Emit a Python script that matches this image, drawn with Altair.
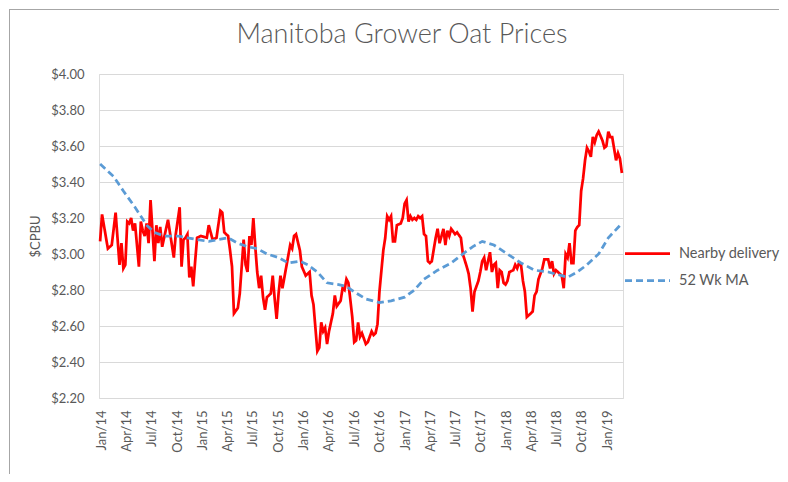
import altair as alt
import pandas as pd

START = "2013-12-27"  # first weekly observation
SERIES = ["Nearby delivery", "52 Wk MA"]

near_weeks = [0, 1, 4, 6, 8, 10, 11, 12, 13, 14, 15, 16, 17, 18, 20, 21, 22, 23, 24, 25, 26, 28, 29, 30, 31, 32, 33, 35,
              38, 39, 41, 42, 43, 44, 45, 46, 47, 48, 49, 50, 52, 55, 56, 58, 60, 62, 63, 64, 66, 67, 68, 69, 71, 72,
              74, 75, 76, 77, 78, 79, 80, 81, 82, 83, 84, 85, 86, 88, 89, 90, 91, 92, 93, 94, 96, 98, 99, 100, 101,
              103, 104, 106, 107, 108, 109, 110, 111, 112, 113, 114, 115, 116, 117, 118, 120, 121, 122, 124, 125, 126,
              127, 128, 130, 131, 132, 133, 134, 135, 137, 138, 140, 141, 142, 143, 144, 146, 147, 148, 149, 150, 151,
              152, 153, 155, 156, 157, 158, 159, 160, 161, 162, 163, 164, 165, 166, 167, 168, 169, 170, 171, 173, 174,
              175, 177, 178, 179, 180, 181, 183, 184, 186, 187, 189, 190, 191, 192, 193, 195, 196, 197, 198, 199, 201,
              202, 203, 204, 205, 206, 207, 208, 209, 210, 211, 213, 214, 215, 216, 217, 218, 219, 220, 222, 223, 224,
              225, 226, 228, 229, 230, 231, 232, 233, 234, 235, 237, 238, 239, 240, 241, 242, 243, 244, 245, 246, 247,
              248, 249, 250, 251, 252, 253, 254, 255, 256, 257, 259, 260, 261, 262, 263, 264, 266, 267, 268, 269]
near_price = [3.07, 3.22, 3.03, 3.05, 3.23, 2.94, 3.06, 2.92, 2.94, 3.18, 3.17, 3.20, 3.13, 3.17, 2.93, 3.18, 3.13, 3.10,
              3.17, 3.06, 3.30, 2.96, 3.16, 3.06, 3.15, 3.04, 3.09, 3.19, 2.98, 3.11, 3.26, 2.93, 3.08, 3.09, 3.11,
              2.87, 2.93, 2.82, 2.96, 3.09, 3.10, 3.09, 3.16, 3.08, 3.09, 3.24, 3.23, 3.12, 3.10, 3.02, 2.93, 2.67,
              2.70, 2.78, 3.08, 2.94, 2.90, 3.10, 3.05, 3.20, 3.04, 2.90, 2.81, 2.88, 2.76, 2.69, 2.76, 2.78, 2.88,
              2.75, 2.64, 2.78, 2.88, 2.81, 2.93, 3.05, 3.03, 3.10, 3.11, 3.02, 2.93, 2.88, 2.89, 2.90, 2.77, 2.72,
              2.59, 2.46, 2.48, 2.62, 2.57, 2.59, 2.50, 2.57, 2.67, 2.77, 2.71, 2.74, 2.81, 2.80, 2.86, 2.84, 2.65,
              2.51, 2.52, 2.62, 2.54, 2.56, 2.50, 2.51, 2.57, 2.55, 2.56, 2.61, 2.79, 3.02, 3.09, 3.21, 3.19, 3.21,
              3.07, 3.07, 3.16, 3.17, 3.20, 3.28, 3.30, 3.18, 3.21, 3.19, 3.20, 3.19, 3.21, 3.20, 3.21, 3.11, 3.10,
              2.96, 2.95, 2.96, 3.09, 3.14, 3.06, 3.14, 3.05, 3.13, 3.10, 3.14, 3.11, 3.12, 3.09, 3.00, 2.93, 2.89,
              2.81, 2.68, 2.79, 2.85, 2.90, 2.96, 2.98, 2.91, 3.01, 2.90, 2.94, 2.95, 2.81, 2.91, 2.90, 2.84, 2.83,
              2.85, 2.90, 2.91, 2.94, 2.92, 2.95, 2.94, 2.85, 2.79, 2.65, 2.67, 2.68, 2.77, 2.79, 2.86, 2.92, 2.97,
              2.97, 2.97, 2.92, 2.96, 2.89, 2.91, 2.89, 2.88, 2.81, 3.00, 2.98, 3.06, 2.95, 2.95, 3.13, 3.15, 3.16,
              3.35, 3.42, 3.52, 3.59, 3.57, 3.54, 3.65, 3.62, 3.66, 3.68, 3.63, 3.59, 3.60, 3.68, 3.65, 3.65, 3.52,
              3.56, 3.53, 3.45]

ma_weeks = [0, 1, 7, 12, 18, 24, 28, 33, 40, 45, 50, 56, 61, 66, 71, 76, 81, 86, 92, 97, 103, 107, 112, 117, 123, 127,
            131, 137, 144, 150, 157, 162, 167, 174, 181, 187, 192, 197, 203, 210, 217, 224, 231, 238, 241, 246, 251,
            257, 262, 269]
ma_price = [3.50, 3.49, 3.43, 3.35, 3.26, 3.16, 3.12, 3.10, 3.10, 3.09, 3.08, 3.07, 3.08, 3.09, 3.06, 3.04, 3.03, 3.00,
            2.98, 2.95, 2.96, 2.94, 2.90, 2.84, 2.83, 2.82, 2.79, 2.75, 2.73, 2.74, 2.76, 2.80, 2.86, 2.91, 2.95, 3.00,
            3.04, 3.07, 3.05, 3.00, 2.95, 2.91, 2.90, 2.88, 2.87, 2.90, 2.94, 3.00, 3.09, 3.17]

y_ticks = [2.2, 2.4, 2.6, 2.8, 3.0, 3.2, 3.4, 3.6, 3.8, 4.0]


def frame(weeks, prices, name):
    d = pd.Timestamp(START) + pd.to_timedelta([w * 7 for w in weeks], unit="D")
    return pd.DataFrame({"date": d.strftime("%Y-%m-%d"), "price": prices, "series": name})


df = pd.concat([frame(near_weeks, near_price, SERIES[0]), frame(ma_weeks, ma_price, SERIES[1])], ignore_index=True)

W, H = 524, 324
GREY = "#595959"

legend = alt.Legend(title=None, orient="none", legendX=532, legendY=163, symbolType="M-1.5,0H1.5",
                    symbolSize=900, symbolStrokeWidth=2.75, labelFontSize=14.5, labelColor=GREY, labelFont="Lato",
                    labelOffset=15, rowPadding=4)

enc = dict(
    x=alt.X("date:T", scale=alt.Scale(domain=[alt.DateTime(year=2013, month=12, date=23),
                                              alt.DateTime(year=2019, month=2, date=26)]),
            axis=alt.Axis(format="%b/%y", labelAngle=-90, tickCount={"interval": "month", "step": 3},
                          grid=False, ticks=False, domain=False, labelPadding=12, title=None,
                          labelFont="Lato", labelFontSize=13, labelColor=GREY)),
    y=alt.Y("price:Q", scale=alt.Scale(domain=[2.2, 4.0], zero=False, nice=False),
            axis=alt.Axis(values=y_ticks, format="$.2f", title="$CPBU", grid=True, gridColor="#d9d9d9",
                          gridWidth=1.2, domain=False, ticks=False, labelPadding=15, titlePadding=8,
                          labelFont="Lato", labelFontSize=13, labelColor=GREY, titleFont="Lato",
                          titleFontSize=13, titleFontWeight="normal", titleColor=GREY)),
    color=alt.Color("series:N", scale=alt.Scale(domain=SERIES, range=["#ff0000", "#5b9bd5"]), legend=legend),
    strokeDash=alt.StrokeDash("series:N", scale=alt.Scale(domain=SERIES, range=[[1, 0], [7, 4]]), legend=legend),
)

base = alt.Chart(df).mark_line(strokeWidth=2.75).encode(**enc)
red = base.transform_filter(alt.datum.series == SERIES[0])
blue = base.transform_filter(alt.datum.series == SERIES[1])

one = pd.DataFrame({"k": [0]})
left_border = alt.Chart(one).mark_rule(color="#a6a6a6", strokeWidth=1).encode(
    x=alt.value(-89.5), y=alt.value(-65), y2=alt.value(400))
top_border = alt.Chart(one).mark_rule(color="#a6a6a6", strokeWidth=1).encode(
    x=alt.value(-90), x2=alt.value(680), y=alt.value(-64.5))

chart = alt.layer(left_border, top_border, red, blue).properties(
    width=W, height=H, padding=0,
    title=alt.TitleParams("Manitoba Grower Oat Prices", fontSize=27, font="Lato", fontWeight=300, color=GREY,
                          anchor="middle", dx=41, offset=-40),
).configure_view(stroke=None).configure(background="white")

chart.save("out.html", embed_options={"renderer": "svg", "actions": False})
